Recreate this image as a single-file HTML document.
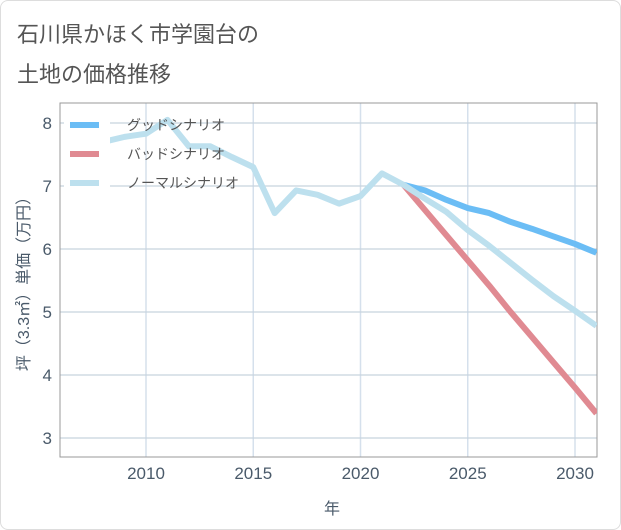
<!DOCTYPE html>
<html><head><meta charset="utf-8"><style>
body{margin:0;background:#fff;font-family:"Liberation Sans","Noto Sans CJK JP",sans-serif;}
#wrap{position:relative;width:619px;height:528px;border:1px solid #ddd;border-radius:8px;overflow:hidden;}
.title{position:absolute;left:16px;font-size:22px;color:#555;}
</style></head><body>
<div id="wrap">
<div class="title" style="top:16px">石川県かほく市学園台の</div>
<div class="title" style="top:56px">土地の価格推移</div>
<svg id="chart" width="621" height="530" style="position:absolute;left:-1px;top:-1px"></svg>
</div>
<script>
const xTicks=[2010,2015,2020,2025,2030];
const yTicks=[3,4,5,6,7,8];
const normalYears=[2008,2009,2010,2011,2012,2013,2014,2015,2016,2017,2018,2019,2020,2021,2022,2023,2024,2025,2026,2027,2028,2029,2030,2031];
const normalVals=[7.7,7.78,7.83,8.05,7.63,7.63,7.46,7.3,6.57,6.93,6.86,6.72,6.84,7.2,7.02,6.8,6.59,6.3,6.05,5.78,5.51,5.25,5.02,4.78];
const futureYears=[2022,2023,2024,2025,2026,2027,2028,2029,2030,2031];
const goodVals=[7.02,6.93,6.78,6.65,6.57,6.43,6.32,6.2,6.08,5.94];
const badVals=[7.02,6.62,6.22,5.82,5.42,5.0,4.6,4.2,3.8,3.39];
const L=60,R=597,T=103,B=457;
const X=v=>146+(v-2010)*(575-146)/20;
const Y=v=>123+(8-v)*63;
const svg=document.getElementById('chart');
const NS='http://www.w3.org/2000/svg';
function mk(t,a){const e=document.createElementNS(NS,t);for(const k in a)e.setAttribute(k,a[k]);svg.appendChild(e);return e;}
const clip=mk('clipPath',{id:'pc'});
const cr=document.createElementNS(NS,'rect');cr.setAttribute('x',L);cr.setAttribute('y',T);cr.setAttribute('width',R-L);cr.setAttribute('height',B-T);clip.appendChild(cr);
xTicks.forEach(v=>{
 const g=mk('line',{x1:X(v),x2:X(v),y1:T,y2:B,stroke:'#d5e0ec','stroke-width':1.5});
 
 
 const t=mk('text',{x:X(v),y:479,'text-anchor':'middle','font-size':17,fill:'#4a5a6a'});
 t.textContent=v;
 
 
});
yTicks.forEach(v=>{
 const g=mk('line',{x1:L,x2:R,y1:Y(v),y2:Y(v),stroke:'#c8d4de','stroke-width':1.2});
 
 
 const t=mk('text',{x:52,y:Y(v)+6,'text-anchor':'end','font-size':17,fill:'#4a5a6a'});
 t.textContent=v;
 
 
});
const frame=mk('rect',{x:L,y:T,width:R-L,height:B-T,fill:'none',stroke:'#999','stroke-width':1});


function line(years,vals,color,name){
 const p=mk('polyline',{points:years.map((y,i)=>X(y)+','+Y(vals[i])).join(' '),fill:'none',stroke:color,'stroke-width':6,'stroke-linejoin':'round','clip-path':'url(#pc)'});
 
 
}
line(futureYears,badVals,'#e08a92','bad-scenario-line');
line(futureYears,goodVals,'#6bbdf5','good-scenario-line');
line(normalYears,normalVals,'#bde0ee','normal-scenario-line');
const lg=mk('rect',{x:64,y:112,width:46,height:88,fill:'#fff'});


const legend=[['グッドシナリオ','#6bbdf5',125],['バッドシナリオ','#e08a92',154],['ノーマルシナリオ','#bde0ee',183]];
legend.forEach((d,i)=>{
 const l=mk('line',{x1:70,x2:99,y1:d[2],y2:d[2],stroke:d[1],'stroke-width':6});
 
 
 const t=mk('text',{x:127,y:d[2]+5,'font-size':14,fill:'#555'});
 t.textContent=d[0];
 
 
});
const yt=mk('text',{x:0,y:0,'font-size':16,fill:'#4a5a6a','text-anchor':'middle',transform:'translate(29,280) rotate(-90)'});
yt.textContent='坪（3.3㎡）単価（万円）';


const xt=mk('text',{x:332,y:514,'font-size':16,fill:'#4a5a6a','text-anchor':'middle'});
xt.textContent='年';


</script>
</body></html>
